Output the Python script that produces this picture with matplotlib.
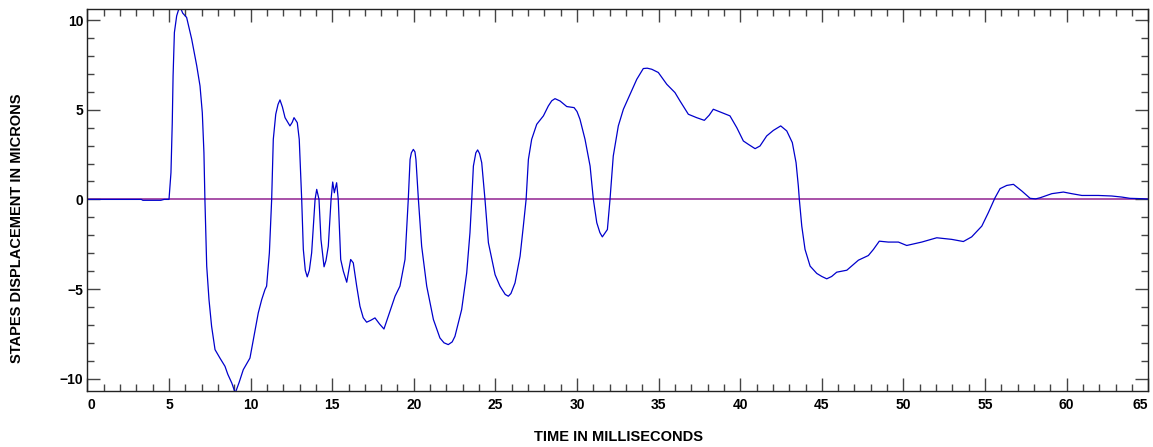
import matplotlib
matplotlib.use("Agg")
import matplotlib.pyplot as plt
from matplotlib.ticker import MultipleLocator

plt.rcParams['font.family'] = ['Liberation Sans', 'DejaVu Sans']

# time in ms and stapes displacement in microns
time_ms = [0, 3.3, 3.4, 4.5, 4.7, 5.0, 5.12, 5.2, 5.25, 5.33, 5.47, 5.61, 5.7,
           5.84, 6.08, 6.39, 6.7, 6.9, 7.04, 7.14, 7.2, 7.31, 7.45, 7.61, 7.82,
           8.12, 8.43, 8.6, 8.85, 9.04, 9.1, 9.3, 9.55, 9.96, 10.17, 10.47, 10.68,
           10.88, 10.98, 11.15, 11.29, 11.39, 11.54, 11.68, 11.8, 11.95, 12.11,
           12.41, 12.55, 12.66, 12.86, 12.98, 13.13, 13.23, 13.35, 13.47, 13.6,
           13.74, 13.95, 14.05, 14.19, 14.31, 14.5, 14.62, 14.76, 14.93, 15.03,
           15.13, 15.27, 15.37, 15.52, 15.68, 15.89, 16.13, 16.29, 16.5, 16.7,
           16.9, 17.11, 17.35, 17.62, 17.9, 18.17, 18.54, 18.85, 19.15, 19.46,
           19.66, 19.77, 19.85, 19.97, 20.07, 20.13, 20.28, 20.48, 20.79, 21.2,
           21.6, 21.85, 22.11, 22.35, 22.52, 22.93, 23.24, 23.44, 23.55, 23.65,
           23.8, 23.91, 24.03, 24.16, 24.36, 24.57, 24.98, 25.28, 25.6, 25.79,
           25.95, 26.2, 26.51, 26.71, 26.88, 27.02, 27.22, 27.53, 27.94, 28.24,
           28.45, 28.65, 28.96, 29.37, 29.82, 30.0, 30.18, 30.49, 30.8, 31.0,
           31.21, 31.4, 31.55, 31.86, 32.02, 32.22, 32.53, 32.84, 33.25, 33.66,
           34.06, 34.3, 34.58, 34.98, 35.5, 36.0, 36.31, 36.82, 37.33, 37.8,
           38.1, 38.35, 38.87, 39.37, 39.79, 40.19, 40.5, 40.91, 41.21, 41.62,
           42.03, 42.48, 42.85, 43.19, 43.42, 43.56, 43.62, 43.77, 43.97, 44.28,
           44.69, 45.0, 45.3, 45.6, 45.91, 46.53, 47.24, 47.85, 48.16, 48.52,
           49.07, 49.69, 50.2, 51.12, 52.04, 52.96, 53.67, 54.18, 54.8, 55.2,
           55.61, 55.92, 56.33, 56.74, 57.25, 57.76, 58.1, 58.37, 59.09, 59.8,
           60.31, 60.93, 61.94, 62.76, 63.38, 63.88, 64.6, 65.3]
displacement = [0, 0, -0.05, -0.05, 0, 0, 1.49, 4.28, 6.89, 9.31, 10.24, 10.65, 10.7,
                10.39, 10.15, 8.94, 7.45, 6.33, 4.84, 2.61, 0, -3.72, -5.59, -7.08, -8.38,
                -8.85, -9.31, -9.75, -10.25, -10.75, -10.7, -10.2, -9.5, -8.85, -7.82, -6.33, -5.59,
                -5.03, -4.84, -2.98, 0, 3.35, 4.75, 5.3, 5.55, 5.15, 4.56,
                4.10, 4.3, 4.56, 4.28, 3.35, 0, -2.79, -3.95, -4.32, -3.95,
                -2.98, 0, 0.56, 0, -2.23, -3.76, -3.4, -2.61, 0, 0.97,
                0.37, 0.93, 0, -3.35, -4.0, -4.62, -3.35, -3.54, -4.84, -5.96,
                -6.6, -6.85, -6.75, -6.61, -6.95, -7.23, -6.24, -5.4, -4.84, -3.35,
                0, 2.23, 2.6, 2.79, 2.65, 2.23, 0, -2.61, -4.84, -6.7,
                -7.73, -8.0, -8.1, -7.95, -7.64, -6.15, -4.1, -1.86, 0, 1.86,
                2.6, 2.76, 2.55, 2.05, 0, -2.42, -4.2, -4.84, -5.3, -5.4,
                -5.25, -4.66, -3.17, -1.49, 0, 2.23, 3.35, 4.19, 4.66, 5.21,
                5.5, 5.62, 5.49, 5.18, 5.12, 4.9, 4.47, 3.35, 1.86, 0,
                -1.3, -1.85, -2.09, -1.68, 0, 2.42, 4.1, 5.03, 5.87, 6.7,
                7.3, 7.32, 7.26, 7.08, 6.42, 5.96, 5.49, 4.75, 4.56, 4.41,
                4.7, 5.03, 4.84, 4.66, 4.0, 3.26, 3.07, 2.83, 2.98, 3.54,
                3.85, 4.1, 3.82, 3.17, 2.05, 0.74, 0, -1.49, -2.79, -3.72,
                -4.13, -4.3, -4.43, -4.3, -4.06, -3.95, -3.39, -3.13, -2.79, -2.33,
                -2.38, -2.38, -2.57, -2.38, -2.14, -2.23, -2.35, -2.09, -1.49, -0.74,
                0.09, 0.6, 0.78, 0.84, 0.47, 0.06, 0.03, 0.09, 0.32, 0.41,
                0.32, 0.22, 0.22, 0.19, 0.13, 0.06, 0.04, 0.0]

fig = plt.figure(figsize=(11.53, 4.47), dpi=100)
ax = fig.add_axes([0.0758, 0.126, 0.9201, 0.853])

ax.axhline(0, color='#993399', lw=1.2, zorder=1)
ax.plot(time_ms, displacement, color='#0000cc', lw=0.9, zorder=2)

ax.set_xlim(0, 65)
ax.set_ylim(-10.67, 10.6)
ax.xaxis.set_major_locator(MultipleLocator(5))
ax.xaxis.set_minor_locator(MultipleLocator(1))
ax.yaxis.set_major_locator(MultipleLocator(5))
ax.yaxis.set_minor_locator(MultipleLocator(1))

ax.tick_params(which='both', direction='in', top=True, right=True,
               color='#444444', width=1)
ax.tick_params(which='major', length=9.5)
ax.tick_params(which='minor', length=5)
ax.tick_params(axis='x', which='major', pad=5, labelsize=10)
ax.tick_params(axis='y', which='major', pad=3, labelsize=10)
fig.canvas.draw()
for lab in ax.get_xticklabels() + ax.get_yticklabels():
    lab.set_fontweight('bold')
for tick in ax.xaxis.get_major_ticks():
    loc = tick.get_loc()
    if abs(loc) < 1e-6:
        tick.label1.set_ha('left')
    elif abs(loc - 65) < 1e-6:
        tick.label1.set_ha('right')
for sp in ax.spines.values():
    sp.set_linewidth(1)
    sp.set_color('#222222')

fig.text(0.536, 0.022, 'TIME IN MILLISECONDS', ha='center', va='center',
         fontsize=10.5, fontweight='bold')
fig.text(0.015, 0.49, 'STAPES DISPLACEMENT IN MICRONS', ha='center',
         va='center', rotation=90, fontsize=10.5, fontweight='bold')

fig.savefig('out.png', dpi=100, facecolor='white')
